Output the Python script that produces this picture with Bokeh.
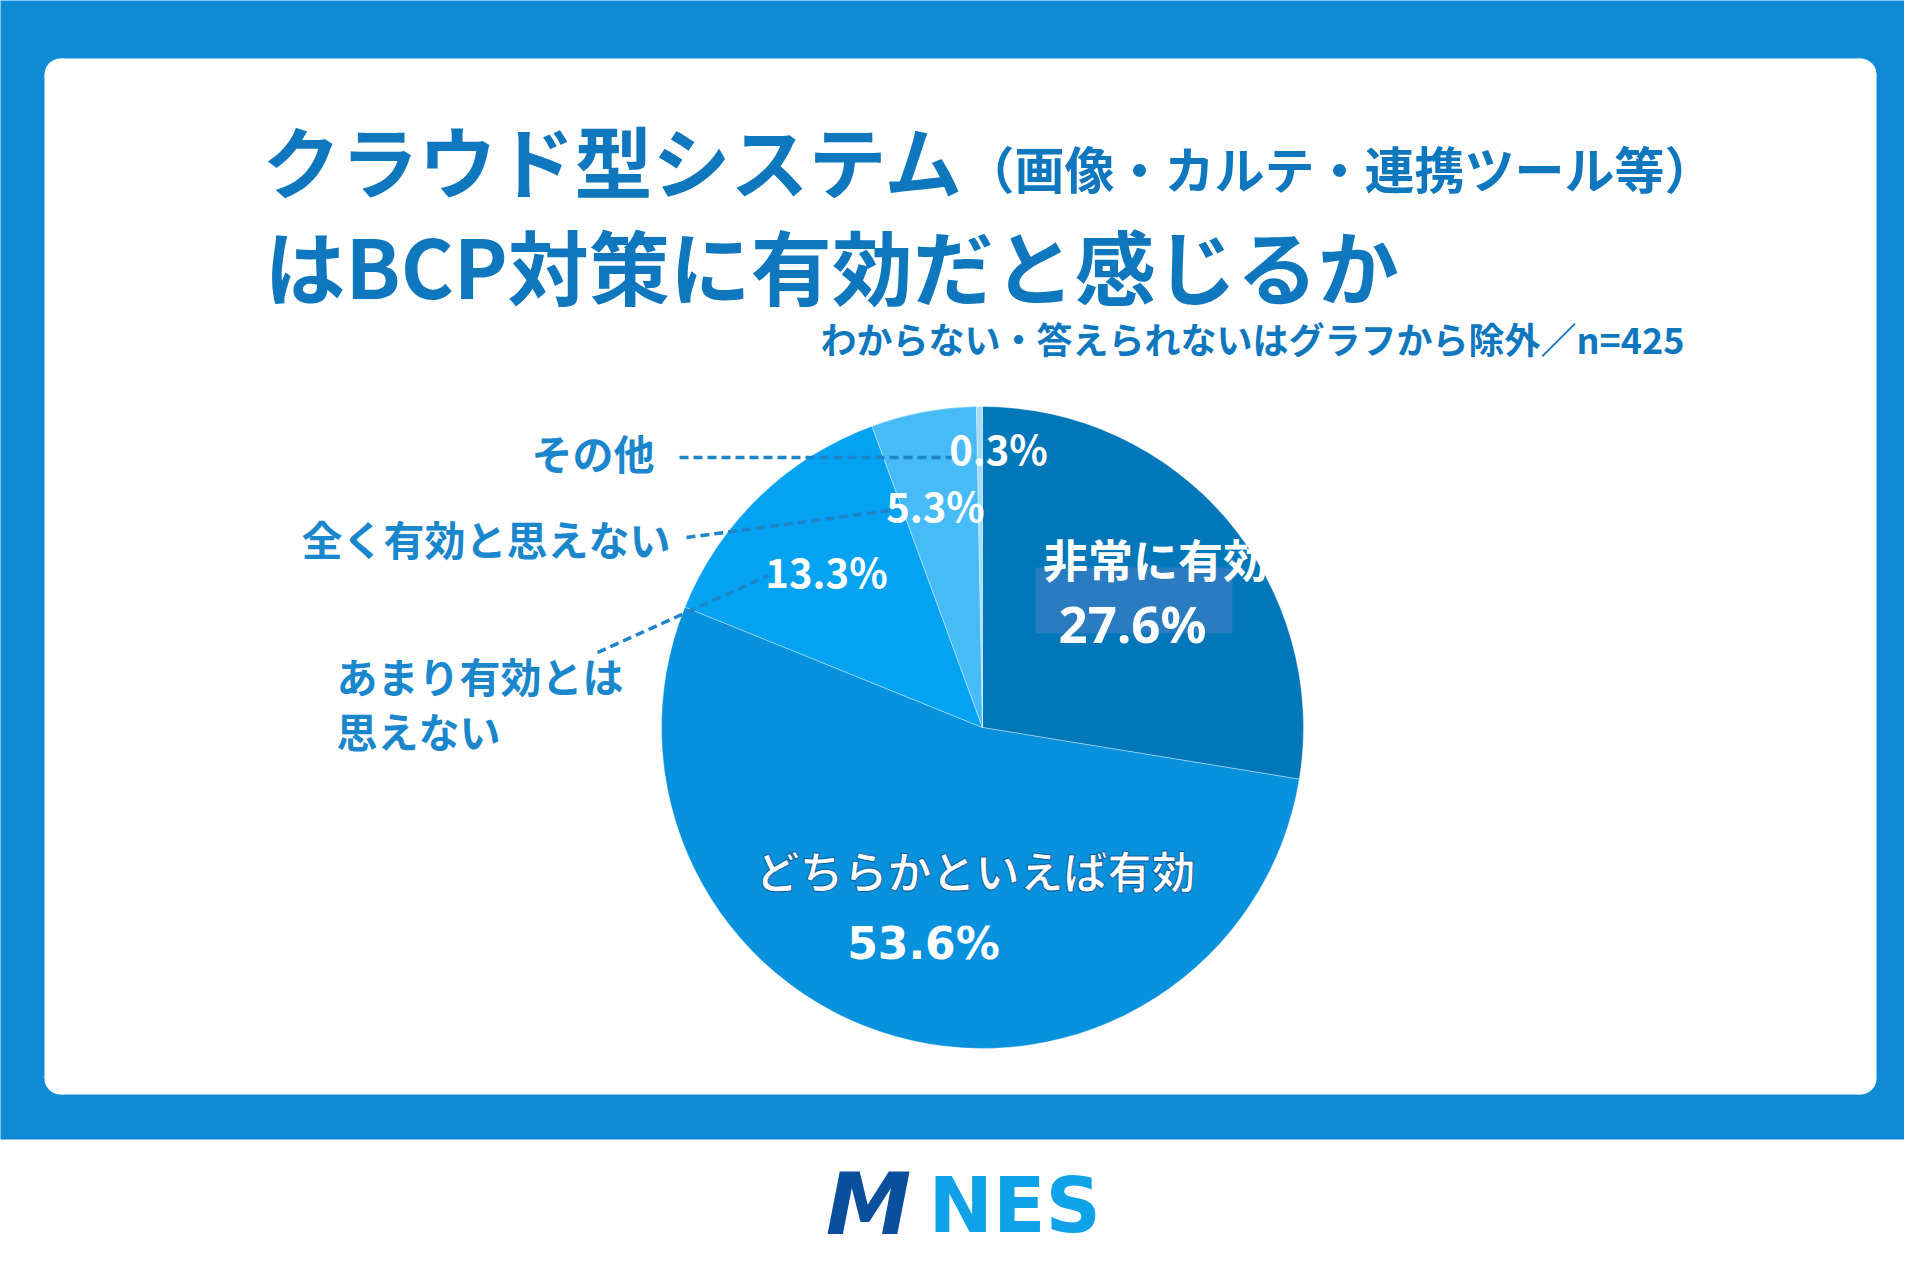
import numpy as np
from bokeh.plotting import figure
from bokeh.models import ColumnDataSource, Range1d
from bokeh.core.properties import value
from bokeh.embed import file_html
from bokeh.resources import INLINE

# ---------------- data ----------------
categories = ["非常に有効", "どちらかといえば有効", "あまり有効とは思えない", "全く有効と思えない", "その他"]
values = [27.6, 53.6, 13.3, 5.3, 0.3]
colors = ["#0077b8", "#0891dc", "#03a3f1", "#47bbf6", "#a6dcf7"]

title_main = "クラウド型システム"
title_paren = "（画像・カルテ・連携ツール等）"
title_line2 = "はBCP対策に有効だと感じるか"
subtitle = "わからない・答えられないはグラフから除外／n=425"
brand_a = "M"
brand_b = "NES"

# ---------------- style ----------------
BLUE = "#0f8bd6"
TITLE_C = "#0f77bd"
LABEL_C = "#1a86cc"
JP = value("Noto Sans CJK JP")
JPY = -6  # vertical correction for CJK font metrics

W, H = 1904, 1264
p = figure(width=W, height=H, x_range=Range1d(0, 1904), y_range=Range1d(16, 1280),
           output_backend="svg", toolbar_location=None, min_border=0)
p.axis.visible = False
p.grid.visible = False
p.outline_line_color = None
p.background_fill_color = "white"
p.border_fill_color = "white"


def Y(v):
    return 1280 - v


# background band and card
p.quad(left=-10, right=1930, top=Y(-10), bottom=Y(1139), fill_color=BLUE, line_color=None)
CL, CR, CT, CB, RAD = 44, 1876, 58, 1094, 16
p.quad(left=[CL, CL + RAD], right=[CR, CR - RAD], top=[Y(CT + RAD), Y(CT)], bottom=[Y(CB - RAD), Y(CB)],
       fill_color="white", line_color=None)
p.circle(x=[CL + RAD, CR - RAD, CL + RAD, CR - RAD], y=[Y(CT + RAD), Y(CT + RAD), Y(CB - RAD), Y(CB - RAD)],
         radius=RAD, fill_color="white", line_color=None)

# ---------------- pie ----------------
CX, CY, R = 982, 727, 321
vals = np.array(values, dtype=float)
fr = vals / vals.sum()
cum = np.concatenate([[0.0], np.cumsum(fr)])
start = np.pi / 2 - 2 * np.pi * cum[:-1]
end = np.pi / 2 - 2 * np.pi * cum[1:]
src = ColumnDataSource(dict(cat=categories, val=values, start=start, end=end, color=colors))
p.wedge(x=CX, y=Y(CY), radius=R, start_angle="start", end_angle="end", direction="clock",
        fill_color="color", line_color="white", line_alpha=0.35, line_width=1, source=src)

# highlight box behind 非常に有効
p.quad(left=1035, right=1232, top=Y(567), bottom=Y(633), fill_color="#2b7bc0", line_color=None)

pct = {c: f"{v:.1f}%" for c, v in zip(categories, values)}

# inside labels
p.text(x=[1155], y=[Y(564 + JPY)], text=[categories[0]], text_font=JP, text_font_style="bold",
       text_font_size="45px", text_color="white", text_align="center", text_baseline="middle")
p.text(x=[1132], y=[Y(622)], text=[pct[categories[0]]], text_font=value("Noto Sans"), text_font_style="bold",
       text_font_size="51px", text_color="white", text_align="center", text_baseline="middle")
p.text(x=[975], y=[Y(875 + JPY)], text=[categories[1]], text_font=JP, text_font_style="bold",
       text_font_size="44px", text_color="white", text_align="center", text_baseline="middle",
       text_outline_color="#0b5d9e")
p.text(x=[923], y=[Y(943)], text=[pct[categories[1]]], text_font=value("DejaVu Sans"), text_font_style="bold",
       text_font_size="44px", text_color="white", text_align="center", text_baseline="middle")

# small percentage labels
small_pos = {categories[2]: (826, 576), categories[3]: (935, 510), categories[4]: (998, 453)}
p.text(x=[small_pos[c][0] for c in categories[2:]], y=[Y(small_pos[c][1] + JPY) for c in categories[2:]],
       text=[pct[c] for c in categories[2:]], text_font=JP, text_font_style="bold",
       text_font_size="40px", text_color="white", text_align="center", text_baseline="middle")

# leader lines
lead = {categories[4]: ([679, 951], [457, 457]),
        categories[3]: ([686, 890], [537, 510]),
        categories[2]: ([597, 768], [652, 575])}
p.multi_line(xs=[lead[c][0] for c in categories[2:]], ys=[[Y(v) for v in lead[c][1]] for c in categories[2:]],
             line_color="#1d85c8", line_width=3.5, line_dash="9 5")

# outside labels
out_lines = {categories[4]: [categories[4]],
             categories[3]: [categories[3]],
             categories[2]: ["あまり有効とは", "思えない"]}
out_pos = {categories[4]: (531, [457]), categories[3]: (301, [543]), categories[2]: (336, [680, 735])}
ox, oy, ot = [], [], []
for c in categories[2:]:
    for line, yy in zip(out_lines[c], out_pos[c][1]):
        ox.append(out_pos[c][0]); oy.append(Y(yy + JPY)); ot.append(line)
p.text(x=ox, y=oy, text=ot, text_font=JP, text_font_style="bold", text_font_size="41px",
       text_color=LABEL_C, text_align="left", text_baseline="middle")

# ---------------- titles ----------------
p.text(x=[262], y=[Y(164 + JPY)], text=[title_main], text_font=JP, text_font_style="bold", text_font_size="78px",
       text_color=TITLE_C, text_align="left", text_baseline="middle")
p.text(x=[964], y=[Y(172 + JPY)], text=[title_paren], text_font=JP, text_font_style="bold", text_font_size="50px",
       text_color=TITLE_C, text_align="left", text_baseline="middle")
p.text(x=[264], y=[Y(269 + JPY)], text=[title_line2], text_font=JP, text_font_style="bold", text_font_size="81px",
       text_color=TITLE_C, text_align="left", text_baseline="middle")
p.text(x=[1684], y=[Y(343 + JPY)], text=[subtitle], text_font=JP, text_font_style="bold", text_font_size="36px",
       text_color=TITLE_C, text_align="right", text_baseline="middle")

# ---------------- brand ----------------
p.text(x=[868], y=[Y(1203)], text=[brand_a], text_font=value("DejaVu Sans"), text_font_style="bold italic",
       text_font_size="86px", text_color="#0a4f9c", text_align="center", text_baseline="middle")
p.text(x=[928], y=[Y(1205)], text=[brand_b], text_font=value("DejaVu Sans"), text_font_style="bold",
       text_font_size="77px", text_color="#10a2e8", text_align="left", text_baseline="middle")

open("out.html", "w").write(file_html(p, INLINE))
